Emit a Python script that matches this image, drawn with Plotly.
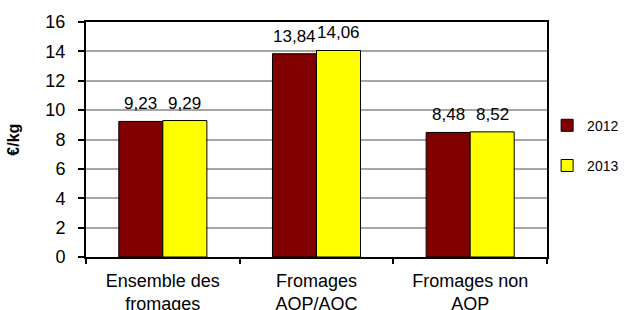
import plotly.graph_objects as go

categories = ["Ensemble des<br>fromages", "Fromages<br>AOP/AOC", "Fromages non<br>AOP"]
series_names = ["2012", "2013"]
values_2012 = [9.23, 13.84, 8.48]
values_2013 = [9.29, 14.06, 8.52]
colors = ["#800000", "#FFFF00"]
y_ticks = [0, 2, 4, 6, 8, 10, 12, 14, 16]
y_title = "€/kg"

FONT = "Liberation Sans, Arial, sans-serif"

fig = go.Figure()
for i, (name, vals) in enumerate(zip(series_names, [values_2012, values_2013])):
    fig.add_trace(go.Bar(
        x=categories, y=vals, name=name, legendgroup=name,
        marker=dict(color=colors[i], line=dict(color="#000000", width=1)),
    ))

# value labels above bars
for i, vals in enumerate([values_2012, values_2013]):
    shift = -22 if i == 0 else 22
    for c, v in zip(categories, vals):
        fig.add_annotation(
            x=c, y=v, xref="x", yref="y", text=f"{v:.2f}".replace(".", ","),
            showarrow=False, xshift=shift, yshift=6, yanchor="bottom",
            font=dict(family=FONT, size=17, color="#000000"),
        )

# y-axis title
fig.add_annotation(
    x=-0.158, y=0.5, xref="paper", yref="paper", text=f"<b>{y_title}</b>",
    textangle=-90, showarrow=False, xanchor="center", yanchor="middle",
    font=dict(family=FONT, size=16, color="#000000"),
)

fig.update_layout(
    width=626, height=310,
    margin=dict(l=86, r=79, t=22, b=53),
    paper_bgcolor="white", plot_bgcolor="white",
    barmode="group", bargap=0.427, bargroupgap=0,
    font=dict(family=FONT, size=18, color="#000000"),
    showlegend=True,
    legend=dict(x=0.874, y=0.53, xref="container", yref="container",
                xanchor="left", yanchor="middle",
                font=dict(family=FONT, size=14, color="#000000"),
                traceorder="grouped", tracegroupgap=19, itemwidth=30,
                bgcolor="rgba(0,0,0,0)"),
)
fig.update_xaxes(
    automargin=False,
    showline=True, linecolor="#000000", linewidth=2, mirror=True,
    ticks="outside", tickson="boundaries", ticklen=5, tickcolor="#000000", tickwidth=2,
    tickfont=dict(family=FONT, size=18), showgrid=False, ticklabelstandoff=6,
)
fig.update_yaxes(
    automargin=False,
    range=[0, 16], tickvals=y_ticks, showline=True, linecolor="#000000", linewidth=2, mirror=True,
    ticks="outside", ticklen=6, tickcolor="#000000", tickwidth=2,
    tickfont=dict(family=FONT, size=18), ticklabelstandoff=9,
    showgrid=True, gridcolor="#A6A6A6", gridwidth=1.5, zeroline=False,
)

fig.write_html("out.html", config={"displayModeBar": False},
               post_script="document.body.style.margin='0';")
